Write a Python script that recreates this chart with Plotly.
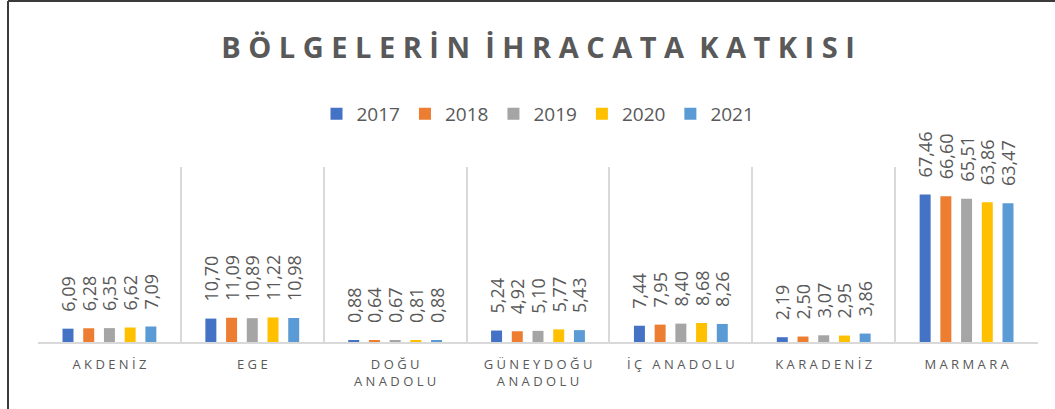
import plotly.graph_objects as go

categories = ["A K D E N İ Z", "E G E", "D O Ğ U<br>A N A D O L U", "G Ü N E Y D O Ğ U<br>A N A D O L U",
              "İ Ç\u00a0\u00a0 A N A D O L U", "K A R A D E N İ Z", "M A R M A R A"]
years = ["2017", "2018", "2019", "2020", "2021"]
v2017 = [6.09, 10.70, 0.88, 5.24, 7.44, 2.19, 67.46]
v2018 = [6.28, 11.09, 0.64, 4.92, 7.95, 2.50, 66.60]
v2019 = [6.35, 10.89, 0.67, 5.10, 8.40, 3.07, 65.51]
v2020 = [6.62, 11.22, 0.81, 5.77, 8.68, 2.95, 63.86]
v2021 = [7.09, 10.98, 0.88, 5.43, 8.26, 3.86, 63.47]
series = [v2017, v2018, v2019, v2020, v2021]
colors = ["#4472C4", "#ED7D31", "#A5A5A5", "#FFC000", "#5B9BD5"]
title_text = "BÖLGELERİN İHRACATA KATKISI"

TXT = "#595959"
fig = go.Figure()
for yr, vals, col in zip(years, series, colors):
    fig.add_trace(go.Bar(
        x=categories, y=vals, name=yr, marker_color=col, marker_line_width=0,
        text=["\u00a0\u00a0\u00a0" + f"{v:.2f}".replace(".", ",") for v in vals],
        textposition="outside", textangle=-90, constraintext="none", cliponaxis=False,
        textfont=dict(family="Open Sans", size=18, color=TXT),
    ))

spaced_title = "\u00a0\u00a0".join("\u00a0".join(w) for w in title_text.split(" "))

fig.update_layout(
    width=1055, height=409,
    margin=dict(l=38, r=17, t=167, b=67, autoexpand=False),
    paper_bgcolor="white", plot_bgcolor="white",
    barmode="group", bargap=0.275, bargroupgap=0.47,
    title=dict(text=spaced_title, x=0.5, xref="paper", xanchor="center", y=1 - 48 / 409, yanchor="middle",
               font=dict(family="Open Sans", size=29, color=TXT, weight="bold"), automargin=False),
    legend=dict(orientation="h", x=0.5, xanchor="center", y=(342 - 114) / 175, yanchor="middle",
                font=dict(family="Open Sans", size=19, color=TXT), itemwidth=30, traceorder="normal"),
    showlegend=True,
    font=dict(family="Open Sans", color=TXT),
)
fig.update_xaxes(showgrid=True, gridcolor="#D9D9D9", gridwidth=1.5, tickson="boundaries", ticks="",
                 showline=True, linecolor="#D9D9D9", linewidth=1.5, automargin=False,
                 tickfont=dict(family="Open Sans", size=13, color=TXT), ticklabelstandoff=10)
fig.update_yaxes(range=[0, 80], visible=False, showgrid=False, zeroline=False, automargin=False)

# figure border (left and top edges)
top_y = (342 - 1) / 175
left_x = (8 - 38) / 1000
fig.add_shape(type="line", xref="paper", yref="paper", x0=left_x, x1=1.05, y0=top_y, y1=top_y,
              line=dict(color="#3A3A3A", width=2))
fig.add_shape(type="line", xref="paper", yref="paper", x0=left_x, x1=left_x, y0=-0.5, y1=top_y,
              line=dict(color="#3A3A3A", width=2))

fig.write_html("out.html", config={"displayModeBar": False},
               post_script="document.body.style.margin='0';")
